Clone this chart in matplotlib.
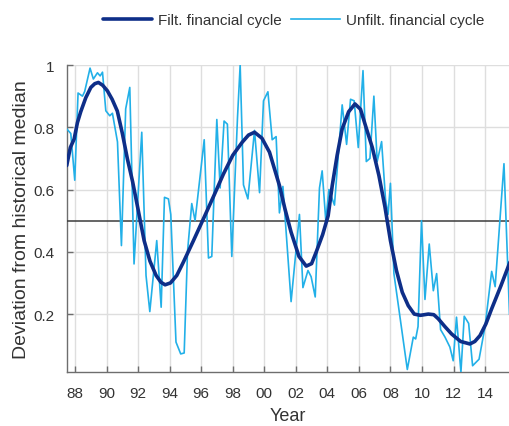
import matplotlib
matplotlib.use("Agg")
import matplotlib.pyplot as plt

plt.rcParams['font.family'] = ['Liberation Sans', 'DejaVu Sans']

# unfiltered financial cycle (year, value)
unfilt_year = [1987.47, 1987.73, 1987.98, 1988.19, 1988.47, 1988.61, 1988.95, 1989.16,
               1989.42, 1989.59, 1989.74, 1989.95, 1990.20, 1990.37, 1990.69, 1990.94,
               1991.21, 1991.47, 1991.74, 1992.23, 1992.50, 1992.74, 1993.18, 1993.46,
               1993.67, 1993.92, 1994.07, 1994.40, 1994.70, 1994.92, 1995.13, 1995.40,
               1995.61, 1996.19, 1996.46, 1996.67, 1996.99, 1997.20, 1997.45, 1997.66,
               1997.94, 1998.30, 1998.47, 1998.68, 1998.96, 1999.38, 1999.70, 1999.95,
               2000.23, 2000.50, 2000.75, 2000.96, 2001.18, 2001.70, 2002.23, 2002.45,
               2002.77, 2002.97, 2003.23, 2003.50, 2003.67, 2003.90, 2004.10, 2004.45,
               2004.94, 2005.22, 2005.47, 2005.70, 2005.96, 2006.26, 2006.47, 2006.70,
               2006.95, 2007.16, 2007.44, 2007.69, 2007.85, 2008.00, 2008.22, 2009.07,
               2009.45, 2009.60, 2009.75, 2009.97, 2010.19, 2010.46, 2010.72, 2010.93,
               2011.18, 2011.46, 2011.77, 2011.98, 2012.19, 2012.47, 2012.68, 2012.96,
               2013.21, 2013.62, 2014.00, 2014.42, 2014.64, 2015.20, 2015.55]
unfilt_val = [0.795, 0.780, 0.630, 0.910, 0.900, 0.915, 0.990, 0.955,
              0.975, 0.965, 0.977, 0.853, 0.837, 0.845, 0.753, 0.420,
              0.859, 0.928, 0.361, 0.784, 0.324, 0.208, 0.436, 0.222,
              0.575, 0.570, 0.520, 0.110, 0.072, 0.075, 0.400, 0.555,
              0.500, 0.760, 0.380, 0.385, 0.825, 0.605, 0.820, 0.810,
              0.385, 0.830, 1.000, 0.615, 0.570, 0.790, 0.590, 0.885,
              0.914, 0.760, 0.770, 0.525, 0.610, 0.240, 0.520, 0.285,
              0.340, 0.320, 0.255, 0.605, 0.660, 0.500, 0.600, 0.550,
              0.872, 0.745, 0.890, 0.885, 0.735, 0.982, 0.690, 0.700,
              0.900, 0.690, 0.754, 0.568, 0.520, 0.620, 0.330, 0.022,
              0.126, 0.120, 0.160, 0.500, 0.247, 0.425, 0.275, 0.330,
              0.150, 0.126, 0.094, 0.050, 0.190, 0.013, 0.193, 0.170,
              0.034, 0.055, 0.160, 0.337, 0.288, 0.683, 0.200]

# filtered financial cycle (year, value)
filt_year = [1987.47, 1987.70, 1987.94, 1988.15, 1988.36, 1988.68, 1989.00, 1989.25,
             1989.48, 1989.75, 1990.05, 1990.35, 1990.68, 1991.00, 1991.32, 1991.65,
             1991.95, 1992.38, 1992.75, 1993.14, 1993.45, 1993.71, 1994.05, 1994.45,
             1994.87, 1995.50, 1996.14, 1996.80, 1997.41, 1998.00, 1998.60, 1999.00,
             1999.38, 1999.85, 2000.33, 2000.96, 2001.30, 2001.70, 2002.20, 2002.66,
             2003.00, 2003.29, 2003.70, 2004.05, 2004.31, 2004.62, 2004.94, 2005.35,
             2005.75, 2006.10, 2006.42, 2006.85, 2007.27, 2007.65, 2008.00, 2008.38,
             2008.75, 2009.13, 2009.51, 2009.90, 2010.40, 2010.75, 2011.03, 2011.45,
             2011.88, 2012.45, 2013.04, 2013.35, 2013.68, 2014.05, 2014.42, 2015.00,
             2015.58]
filt_val = [0.677, 0.735, 0.762, 0.815, 0.850, 0.895, 0.928, 0.940,
            0.944, 0.935, 0.917, 0.890, 0.852, 0.780, 0.698, 0.625,
            0.548, 0.436, 0.370, 0.324, 0.302, 0.294, 0.300, 0.324,
            0.367, 0.435, 0.506, 0.580, 0.650, 0.710, 0.752, 0.775,
            0.784, 0.765, 0.720, 0.613, 0.540, 0.463, 0.385, 0.354,
            0.362, 0.399, 0.455, 0.516, 0.613, 0.710, 0.795, 0.850,
            0.875, 0.858, 0.805, 0.735, 0.645, 0.545, 0.436, 0.340,
            0.270, 0.227, 0.200, 0.196, 0.200, 0.198, 0.185, 0.160,
            0.136, 0.112, 0.104, 0.112, 0.131, 0.168, 0.217, 0.290,
            0.367]

xtick_years = list(range(1988, 2015, 2))
xtick_labels = ['%02d' % (y % 100) for y in xtick_years]
ytick_vals = [0.2, 0.4, 0.6, 0.8, 1.0]
ytick_labels = ['0.2', '0.4', '0.6', '0.8', '1']
median_level = 0.5

fig = plt.figure(figsize=(5.1, 4.27), dpi=100)
ax = fig.add_axes([0.1308, 0.1258, 0.8682, 0.7196])

ax.axhline(median_level, color='#3c3c3c', lw=1.1, zorder=3)
ax.plot(unfilt_year, unfilt_val, color='#22b0e8', lw=1.2, zorder=4,
        label='Unfilt. financial cycle')
ax.plot(filt_year, filt_val, color='#0e2e88', lw=2.6, zorder=5,
        solid_joinstyle='round', solid_capstyle='round',
        label='Filt. financial cycle')

ax.set_xlim(1987.47, 2015.55)
ax.set_ylim(0.013, 1.0)
ax.set_xticks(xtick_years)
ax.set_xticklabels(xtick_labels)
ax.set_yticks(ytick_vals)
ax.set_yticklabels(ytick_labels)
ax.grid(True, color='#dedede', lw=1.0)
ax.set_axisbelow(True)

for side in ('top', 'right'):
    ax.spines[side].set_visible(False)
for side in ('left', 'bottom'):
    ax.spines[side].set_color('#6e6e6e')
    ax.spines[side].set_linewidth(1.0)
ax.tick_params(direction='in', length=4, width=1, color='#6e6e6e',
               labelsize=11, labelcolor='#333333')
ax.tick_params(axis='x', pad=10)
ax.tick_params(axis='y', pad=9)

ax.set_xlabel('Year', fontsize=13, color='#333333', labelpad=5)
ax.set_ylabel('Deviation from historical median', fontsize=14, color='#333333',
              labelpad=2.5)

handles, labels = ax.get_legend_handles_labels()
fig.legend(handles[::-1], labels[::-1], loc='center', ncol=2,
           bbox_to_anchor=(294 / 510, 1 - 21 / 427), frameon=False,
           fontsize=11, handlelength=3.2, handletextpad=0.4, columnspacing=0.6,
           labelcolor='#333333')

fig.savefig('out.png', dpi=100)
